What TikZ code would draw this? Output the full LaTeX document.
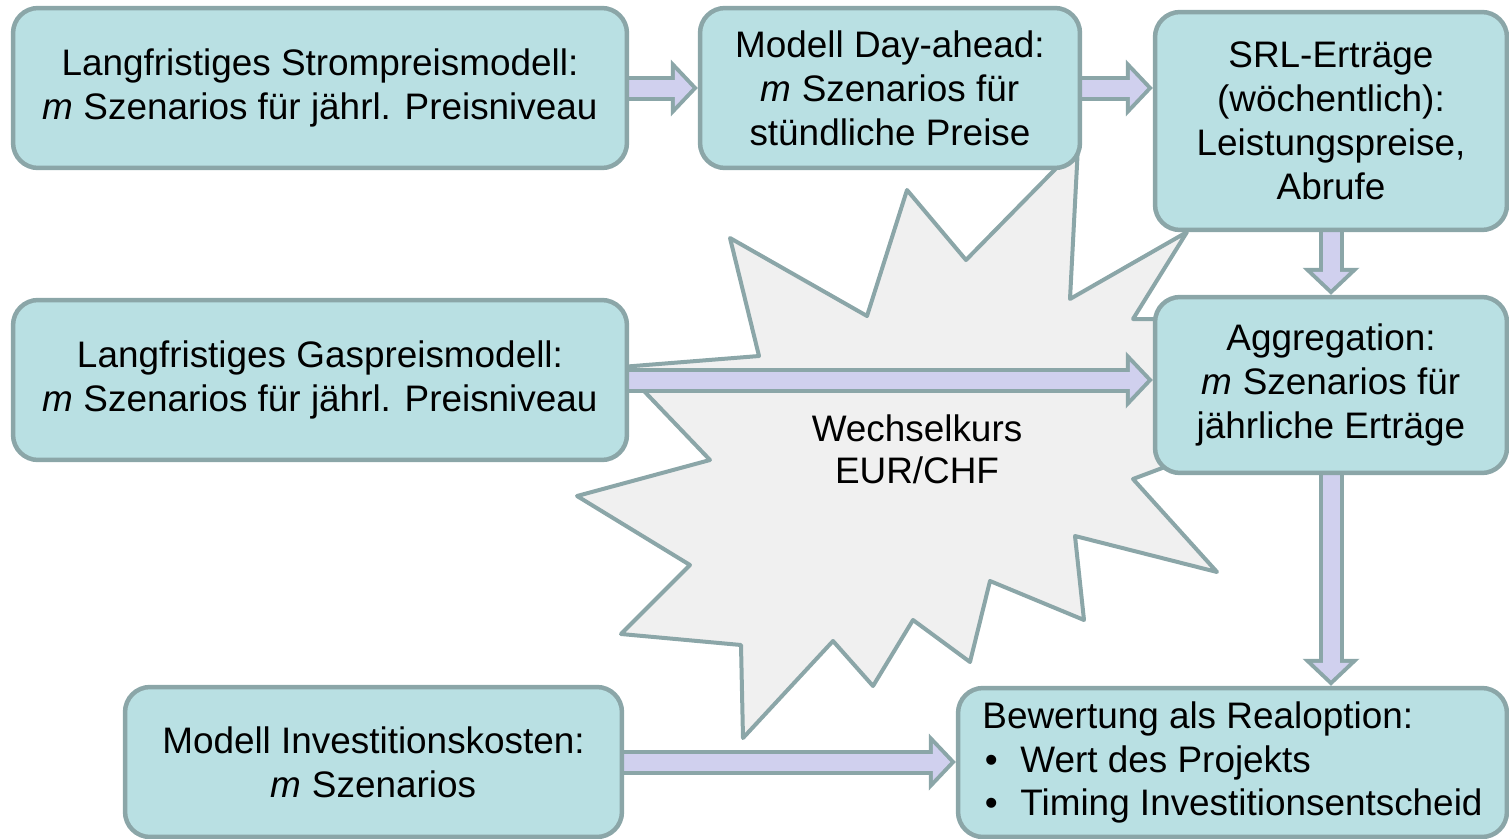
\documentclass[tikz,border=0pt]{standalone}
\usepackage{fontspec}
\setmainfont{Liberation Sans}
\usepackage{xcolor}
\usepackage{tikz}
\usetikzlibrary{arrows.meta, positioning, calc, backgrounds}
\definecolor{boxfill}{RGB}{185, 224, 227}
\definecolor{edgegray}{RGB}{139, 166, 168}
\definecolor{arrowfill}{RGB}{208, 208, 238}
\definecolor{starfill}{RGB}{240, 240, 240}
\pgfdeclarelayer{back}
\pgfdeclarelayer{mid}
\pgfsetlayers{back,mid,main}
\newcommand{\itembul}{\makebox[0.76cm][l]{\hspace{0.05cm}\textbullet}}

\tikzset{
  model/.style={draw=edgegray, fill=boxfill, line width=0.09cm, rounded corners=0.5cm,
    align=center, inner sep=0pt, font=\fontsize{21}{25}\selectfont},
  flow/.style={draw=arrowfill, line width=0.34cm,
    -{Triangle[length=0.35cm, width=0.74cm, line width=0pt]}, shorten >=0.11cm,
    preaction={draw=edgegray, line width=0.5cm,
      -{Triangle[length=0.54cm, width=1.14cm, line width=0pt]}, shorten >=0pt}},
  burst/.style={draw=edgegray, fill=starfill, line width=0.08cm, line join=round}
}

\begin{document}
\begin{tikzpicture}[x=0.02cm, y=-0.02cm]
\useasboundingbox (0,0) rectangle (1509,839);

% Models
\node[model, minimum width=12.28cm, minimum height=3.2cm] (strom) at (320,88)
  {Langfristiges Strompreismodell:\\\textit{m} Szenarios für jährl. Preisniveau};
\node[model, minimum width=7.6cm, minimum height=3.2cm] (dayahead) at (890,88)
  {Modell Day-ahead:\\\textit{m} Szenarios für\\stündliche Preise};
\node[model, minimum width=7.04cm, minimum height=4.36cm] (srl) at (1331,121)
  {SRL-Erträge\\(wöchentlich):\\Leistungspreise,\\Abrufe};
\node[model, minimum width=12.28cm, minimum height=3.2cm] (gas) at (320,380)
  {Langfristiges Gaspreismodell:\\\textit{m} Szenarios für jährl. Preisniveau};
\node[model, minimum width=7.04cm, minimum height=3.52cm] (aggr) at (1331,385)
  {Aggregation:\\\textit{m} Szenarios für\\jährliche Erträge};
\node[model, minimum width=9.94cm, minimum height=3.0cm] (invest) at (373.5,762)
  {Modell Investitionskosten:\\\textit{m} Szenarios};
\node[model, align=left, minimum width=10.98cm, minimum height=2.98cm] (bewert) at (1232.5,762.5)
  {Bewertung als Realoption:\\\itembul Wert des Projekts\\\itembul Timing Investitionsentscheid};

% Exchange rate burst
\begin{pgfonlayer}{back}
\draw[burst] (1078,146) -- (966,260) -- (907,190) -- (867,316) -- (730,238) -- (759,356)
  -- (621,367) -- (710,460) -- (577,496) -- (690,565) -- (621,634) -- (741,645)
  -- (743,738) -- (833,641) -- (873,686) -- (913,620) -- (970,662) -- (990,581)
  -- (1084,620) -- (1075,536) -- (1217,572) -- (1133,479) -- (1250,435) -- (1250,319)
  -- (1133,319) -- (1187,232) -- (1070,299) -- cycle;
\end{pgfonlayer}
\node[font=\fontsize{21}{24}\selectfont, align=center] (rate) at (917,449) {Wechselkurs\\EUR/CHF};

% Flows
\begin{pgfonlayer}{mid}
\draw[flow] (strom.east) -- (dayahead.west);
\draw[flow] (dayahead.east) -- (dayahead.east -| srl.west);
\draw[flow] (srl.south) -- (aggr.north);
\draw[flow] (gas.east) -- (gas.east -| aggr.west);
\draw[flow] (aggr.south) -- (aggr.south |- bewert.north);
\draw[flow] (invest.east) -- (invest.east -| bewert.west);
\end{pgfonlayer}
\end{tikzpicture}
\end{document}
